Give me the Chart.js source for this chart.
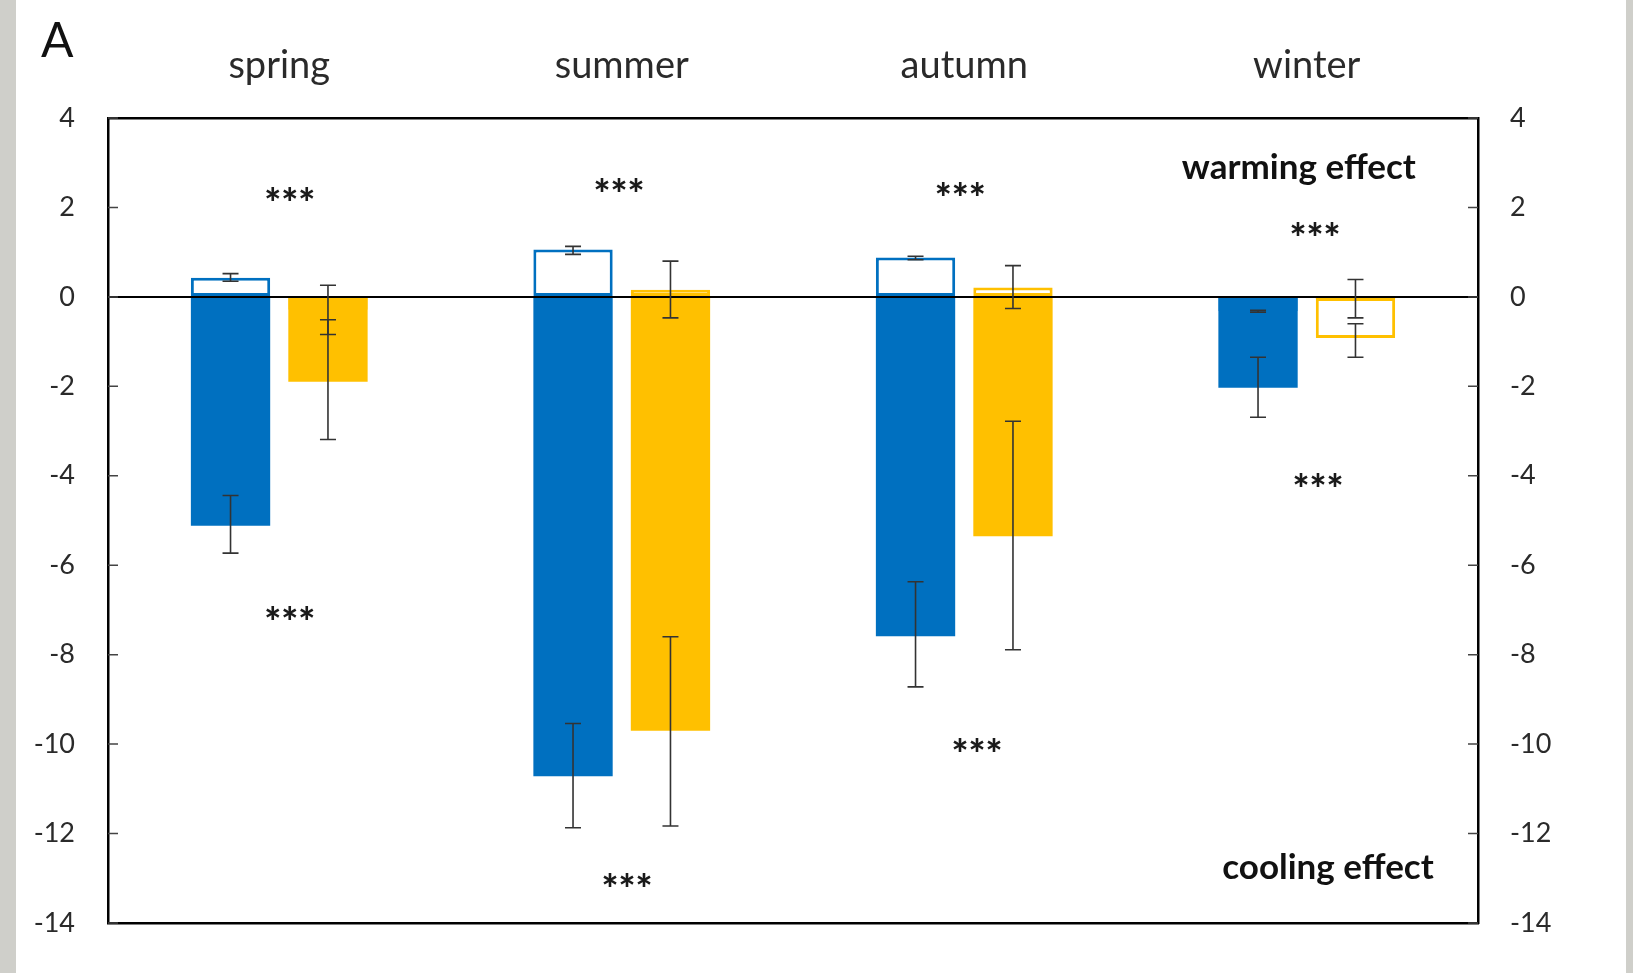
<!DOCTYPE html>
<html><head><meta charset="utf-8">
<script src="https://cdn.jsdelivr.net/npm/chart.js@4.4.1/dist/chart.umd.min.js"></script>
<style>html,body{margin:0;padding:0;background:#fff;overflow:hidden}#wrap{width:1633px;height:973px;position:relative}canvas{display:block}</style>
</head><body><div id="wrap"><canvas id="c" width="1633" height="973"></canvas></div>
<script>
// ---- data ----
const seasons = ['spring', 'summer', 'autumn', 'winter'];
const blueFilled = [-5.12, -10.72, -7.59, -2.03];
const blueFilledErr = [[-5.73, -4.44], [-11.87, -9.54], [-8.72, -6.37], [-2.69, -1.35]];
const blueOutline = [0.43, 1.06, 0.88, -0.32];
const blueOutlineErr = [[0.35, 0.52], [0.95, 1.13], [0.83, 0.91], [-0.34, -0.30]];
const yellowFilled = [-1.90, -9.70, -5.35, -0.04];
const yellowFilledErr = [[-3.19, -0.51], [-11.83, -7.60], [-7.89, -2.78], [-0.47, 0.39]];
const yellowOutline = [-0.29, 0.16, 0.21, -0.92];
const yellowOutlineErr = [[-0.84, 0.26], [-0.47, 0.80], [-0.26, 0.70], [-1.35, -0.60]];
const yMin = -14, yMax = 4, yStep = 2;
const starsAbove = [2.30, 2.51, 2.41, 1.51];
const starsAboveShift = [0.031, -0.008, -0.012, 0.024];
const starsBelow = [-7.07, -13.04, -10.02, -4.10];
const starsBelowShift = [0.031, 0.015, 0.037, 0.033];
const notes = [
  {text: 'warming effect', cat: 2.977, value: 2.63},
  {text: 'cooling effect', cat: 3.062, value: -13.02}
];
const panelLetter = 'A';

const BLUE = '#0070C0', YELLOW = '#FFC000', TXT = '#2a2a2a';
const FONT = 'Lato';

const decor = {
  id: 'decor',
  beforeDraw(chart) {
    const ctx = chart.ctx;
    ctx.save();
    ctx.fillStyle = '#ffffff';
    ctx.fillRect(0, 0, chart.width, chart.height);
    ctx.fillStyle = '#CFCFCA';
    ctx.fillRect(0, 0, 16, chart.height);
    ctx.fillRect(1626, 0, chart.width - 1626, chart.height);
    ctx.restore();
  },
  afterDatasetsDraw(chart) {
    const ctx = chart.ctx, ys = chart.scales.y;
    ctx.save();
    ctx.strokeStyle = '#333';
    ctx.lineWidth = 1.6;
    chart.data.datasets.forEach((ds, di) => {
      const meta = chart.getDatasetMeta(di);
      (ds.err || []).forEach((e, i) => {
        const bar = meta.data[i];
        if (!bar) return;
        const x = bar.x;
        const y1 = ys.getPixelForValue(e[0]), y2 = ys.getPixelForValue(e[1]);
        ctx.beginPath();
        ctx.moveTo(x, y1); ctx.lineTo(x, y2);
        ctx.moveTo(x - 8, y1); ctx.lineTo(x + 8, y1);
        ctx.moveTo(x - 8, y2); ctx.lineTo(x + 8, y2);
        ctx.stroke();
      });
    });
    ctx.restore();
  },
  afterDraw(chart) {
    const ctx = chart.ctx, ys = chart.scales.y, xs = chart.scales.x, ca = chart.chartArea;
    ctx.save();
    // inner tick marks
    ctx.strokeStyle = '#444';
    ctx.lineWidth = 1.5;
    ys.ticks.forEach(t => {
      const py = ys.getPixelForValue(t.value);
      ctx.beginPath();
      ctx.moveTo(ca.left, py); ctx.lineTo(ca.left + 10, py);
      ctx.moveTo(ca.right - 10, py); ctx.lineTo(ca.right, py);
      ctx.stroke();
    });
    const catW = (ca.right - ca.left) / seasons.length;
    // significance stars
    ctx.fillStyle = '#1a1a1a';
    ctx.font = '900 40px ' + FONT;
    ctx.textAlign = 'center';
    ctx.textBaseline = 'alphabetic';
    const m = ctx.measureText('*');
    const drawStars = (cx, cy) => {
      const base = cy - (m.actualBoundingBoxDescent - m.actualBoundingBoxAscent) / 2;
      for (let k = -1; k <= 1; k++) ctx.fillText('*', cx + k * 17, base);
    };
    seasons.forEach((s, i) => {
      const cx = xs.getPixelForValue(i);
      drawStars(cx + starsAboveShift[i] * catW, ys.getPixelForValue(starsAbove[i]));
      drawStars(cx + starsBelowShift[i] * catW, ys.getPixelForValue(starsBelow[i]));
    });
    // effect notes
    ctx.fillStyle = '#111';
    ctx.font = 'bold 35px ' + FONT;
    notes.forEach(n => {
      const cx = ca.left + (n.cat + 0.5) * catW;
      ctx.fillText(n.text, cx, ys.getPixelForValue(n.value));
    });
    // panel letter
    ctx.textAlign = 'left';
    ctx.font = '48px ' + FONT;
    ctx.fillStyle = '#111';
    ctx.fillText(panelLetter, 41, 57);
    ctx.restore();
  }
};

const tickFont = {family: FONT, size: 27};
new Chart(document.getElementById('c'), {
  type: 'bar',
  data: {
    labels: seasons,
    datasets: [
      {label: 'blue', data: blueFilled, err: blueFilledErr, backgroundColor: BLUE, borderWidth: 0, stack: 'b'},
      {label: 'yellow', data: yellowFilled, err: yellowFilledErr, backgroundColor: YELLOW, borderWidth: 0, stack: 'y'},
      {label: 'blue (outline)', data: blueOutline, err: blueOutlineErr, backgroundColor: '#ffffff', borderColor: BLUE, borderWidth: 3, borderSkipped: false, stack: 'b'},
      {label: 'yellow (outline)', data: yellowOutline, err: yellowOutlineErr, backgroundColor: '#ffffff', borderColor: YELLOW, borderWidth: 3, borderSkipped: false, stack: 'y'}
    ]
  },
  options: {
    responsive: false,
    animation: false,
    devicePixelRatio: 1,
    categoryPercentage: 0.569,
    barPercentage: 0.814,
    layout: {padding: 0},
    plugins: {legend: {display: false}, tooltip: {enabled: false}},
    scales: {
      x: {
        type: 'category', position: 'top', stacked: true, offset: true,
        grid: {display: false, drawTicks: false},
        border: {display: true, color: '#000', width: 2.5},
        ticks: {font: {family: FONT, size: 38}, color: TXT, padding: 29, maxRotation: 0},
        afterFit: s => { s.height = 118; }
      },
      x2: {
        type: 'category', position: 'bottom', labels: seasons, offset: true,
        grid: {display: false, drawTicks: false},
        border: {display: true, color: '#000', width: 2.5},
        ticks: {display: false},
        afterFit: s => { s.height = 50; }
      },
      y: {
        type: 'linear', position: 'left', min: yMin, max: yMax, stacked: false,
        grid: {drawTicks: false, color: c => (c.tick && c.tick.value === 0) ? '#000' : 'rgba(0,0,0,0)', lineWidth: 2},
        border: {display: true, color: '#000', width: 2.5},
        ticks: {stepSize: yStep, font: tickFont, color: TXT, padding: 33},
        afterFit: s => { s.width = 108; }
      },
      y2: {
        type: 'linear', position: 'right', min: yMin, max: yMax,
        grid: {display: false, drawTicks: false},
        border: {display: true, color: '#000', width: 2.5},
        ticks: {stepSize: yStep, font: tickFont, color: TXT, padding: 32},
        afterFit: s => { s.width = 155; }
      }
    }
  },
  plugins: [decor]
});
</script>
</body></html>
